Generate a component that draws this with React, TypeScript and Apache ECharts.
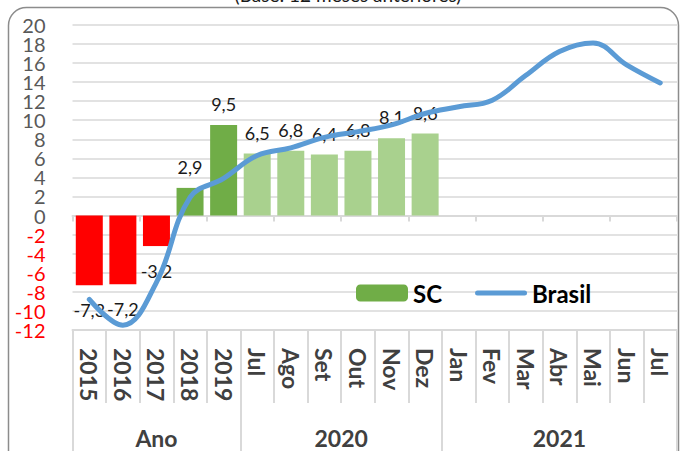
import React, { useEffect, useRef } from 'react';
import * as echarts from 'echarts';

const categories = ['2015', '2016', '2017', '2018', '2019', 'Jul', 'Ago', 'Set', 'Out', 'Nov', 'Dez', 'Jan', 'Fev', 'Mar', 'Abr', 'Mai', 'Jun', 'Jul'];
const groupLabels = ['Ano', '2020', '2021'];
const groupSizes = [5, 6, 7];
const scValues = [-7.3, -7.2, -3.2, 2.9, 9.5, 6.5, 6.8, 6.4, 6.8, 8.1, 8.6];
const brasilValues = [-8.8, -11.5, -7.0, 1.9, 3.9, 6.3, 7.1, 8.2, 8.8, 9.5, 10.7, 11.4, 12.1, 14.7, 17.2, 18.1, 15.8, 13.9];
const yMin = -12;
const yMax = 20;
const yStep = 2;
const titleText = '(Base: 12 meses anteriores)';

const FONT = 'Lato, "Noto Sans", sans-serif';
const RED = '#FF0000';
const DARK_GREEN = '#70AD47';
const LIGHT_GREEN = '#A9D18E';
const BLUE = '#5B9BD5';
const GRID = '#d9d9d9';
const LINE_ICON = 'path://M2.5,0 L49.5,0 A2.5,2.5 0 0 1 49.5,5 L2.5,5 A2.5,2.5 0 0 1 2.5,0 Z';

function fmt(v: number) {
  return v.toFixed(1).replace('.', ',');
}

export default function App() {
  const ref = useRef<HTMLDivElement>(null);

  useEffect(() => {
    if (!ref.current) return;
    const chart = echarts.init(ref.current, undefined, { renderer: 'svg' });

    const nHalf = categories.length * 2;
    const groupData: string[] = new Array(nHalf + 1).fill('');
    const boundaryIdx: number[] = [];
    let start = 0;
    groupLabels.forEach((g, i) => {
      boundaryIdx.push(start * 2);
      groupData[start * 2 + groupSizes[i]] = g;
      start += groupSizes[i];
    });
    boundaryIdx.push(start * 2);

    const barData = scValues.map((v, i) => ({
      value: v,
      itemStyle: { color: v < 0 ? RED : i < 5 ? DARK_GREEN : LIGHT_GREEN },
      label: v < 0 ? { position: 'bottom', distance: 16 } : { position: 'top', distance: 12 },
    }));

    // two overlapping value axes share the same scale; each shows every other tick label
    const yLabelBase = {
      margin: 27,
      fontFamily: FONT,
      fontSize: 20,
      color: (v: any) => (Number(v) < 0 ? RED : '#595959'),
    };
    const isEvenStep = (v: number) => Math.round((v - yMin) / yStep) % 2 === 0;

    chart.setOption({
      animation: false,
      grid: { left: 72.5, right: -10, top: 24.8, bottom: 121 },
      legend: {
        left: 351,
        top: 276,
        itemWidth: 52,
        itemHeight: 17,
        itemGap: 33,
        textStyle: { fontFamily: FONT, fontSize: 24, fontWeight: 'bold', color: '#000' },
        data: [
          { name: 'SC' },
          { name: 'Brasil', icon: LINE_ICON, itemStyle: { color: BLUE } },
        ],
      },
      xAxis: [
        {
          type: 'category',
          data: categories,
          position: 'bottom',
          axisLine: { onZero: true, lineStyle: { color: GRID, width: 2 } },
          axisTick: { show: true, length: 6, lineStyle: { color: GRID, width: 2 } },
          axisLabel: { show: false },
          splitLine: { show: false },
        },
        {
          type: 'category',
          data: categories,
          position: 'bottom',
          axisLine: { onZero: false, show: true, lineStyle: { color: GRID, width: 2 } },
          axisTick: { show: true, length: 73, lineStyle: { color: GRID, width: 2 } },
          axisLabel: {
            show: true,
            interval: 0,
            rotate: -90,
            margin: 18,
            fontFamily: FONT,
            fontSize: 23,
            fontWeight: 'bold',
            color: '#404040',
          },
        },
        {
          type: 'category',
          data: groupData,
          boundaryGap: false,
          position: 'bottom',
          axisLine: { onZero: false, show: false },
          axisTick: {
            show: true,
            length: 130,
            interval: (idx: number) => boundaryIdx.indexOf(idx) >= 0,
            lineStyle: { color: GRID, width: 2 },
          },
          axisLabel: {
            show: true,
            interval: 0,
            margin: 96,
            fontFamily: FONT,
            fontSize: 23,
            fontWeight: 'bold',
            color: '#404040',
          },
        },
      ],
      yAxis: [
        {
          type: 'value',
          position: 'left',
          min: yMin,
          max: yMax,
          interval: yStep,
          axisLine: { show: false },
          axisTick: { show: false },
          axisLabel: {
            ...yLabelBase,
            formatter: (v: number) => (isEvenStep(v) ? String(v) : ''),
          },
          splitLine: { lineStyle: { color: GRID, width: 1.5 } },
        },
        {
          type: 'value',
          position: 'left',
          offset: 0,
          min: yMin,
          max: yMax,
          interval: yStep,
          axisLine: { show: false },
          axisTick: { show: false },
          axisLabel: {
            ...yLabelBase,
            formatter: (v: number) => (isEvenStep(v) ? '' : String(v)),
          },
          splitLine: { show: false },
        },
      ],
      series: [
        {
          name: 'SC',
          type: 'bar',
          xAxisIndex: 0,
          yAxisIndex: 0,
          barWidth: 27,
          itemStyle: { color: DARK_GREEN },
          data: barData,
          label: {
            show: true,
            fontFamily: FONT,
            fontSize: 18,
            color: '#1a1a1a',
            formatter: (p: any) => fmt(p.value),
          },
          z: 2,
        },
        {
          name: 'Brasil',
          type: 'line',
          xAxisIndex: 0,
          yAxisIndex: 0,
          data: brasilValues,
          smooth: 0.4,
          symbol: 'none',
          lineStyle: { color: BLUE, width: 5, cap: 'round' },
          itemStyle: { color: BLUE },
          z: 3,
        },
      ],
      graphic: [
        {
          type: 'rect',
          silent: true,
          z: -10,
          shape: { x: 8.5, y: 7.5, width: 670, height: 520, r: 18 },
          style: { fill: 'none', stroke: '#8c8c8c', lineWidth: 1.5 },
        },
        {
          type: 'text',
          silent: true,
          x: 348,
          y: 4,
          style: {
            text: titleText,
            font: `19px ${FONT}`,
            fill: '#1a1a1a',
            align: 'center',
            verticalAlign: 'bottom',
          },
        },
      ],
    });

    return () => chart.dispose();
  }, []);

  return (
    <div
      ref={ref}
      style={{ position: 'fixed', left: 0, top: 0, width: 680, height: 451, background: '#fff' }}
    />
  );
}
